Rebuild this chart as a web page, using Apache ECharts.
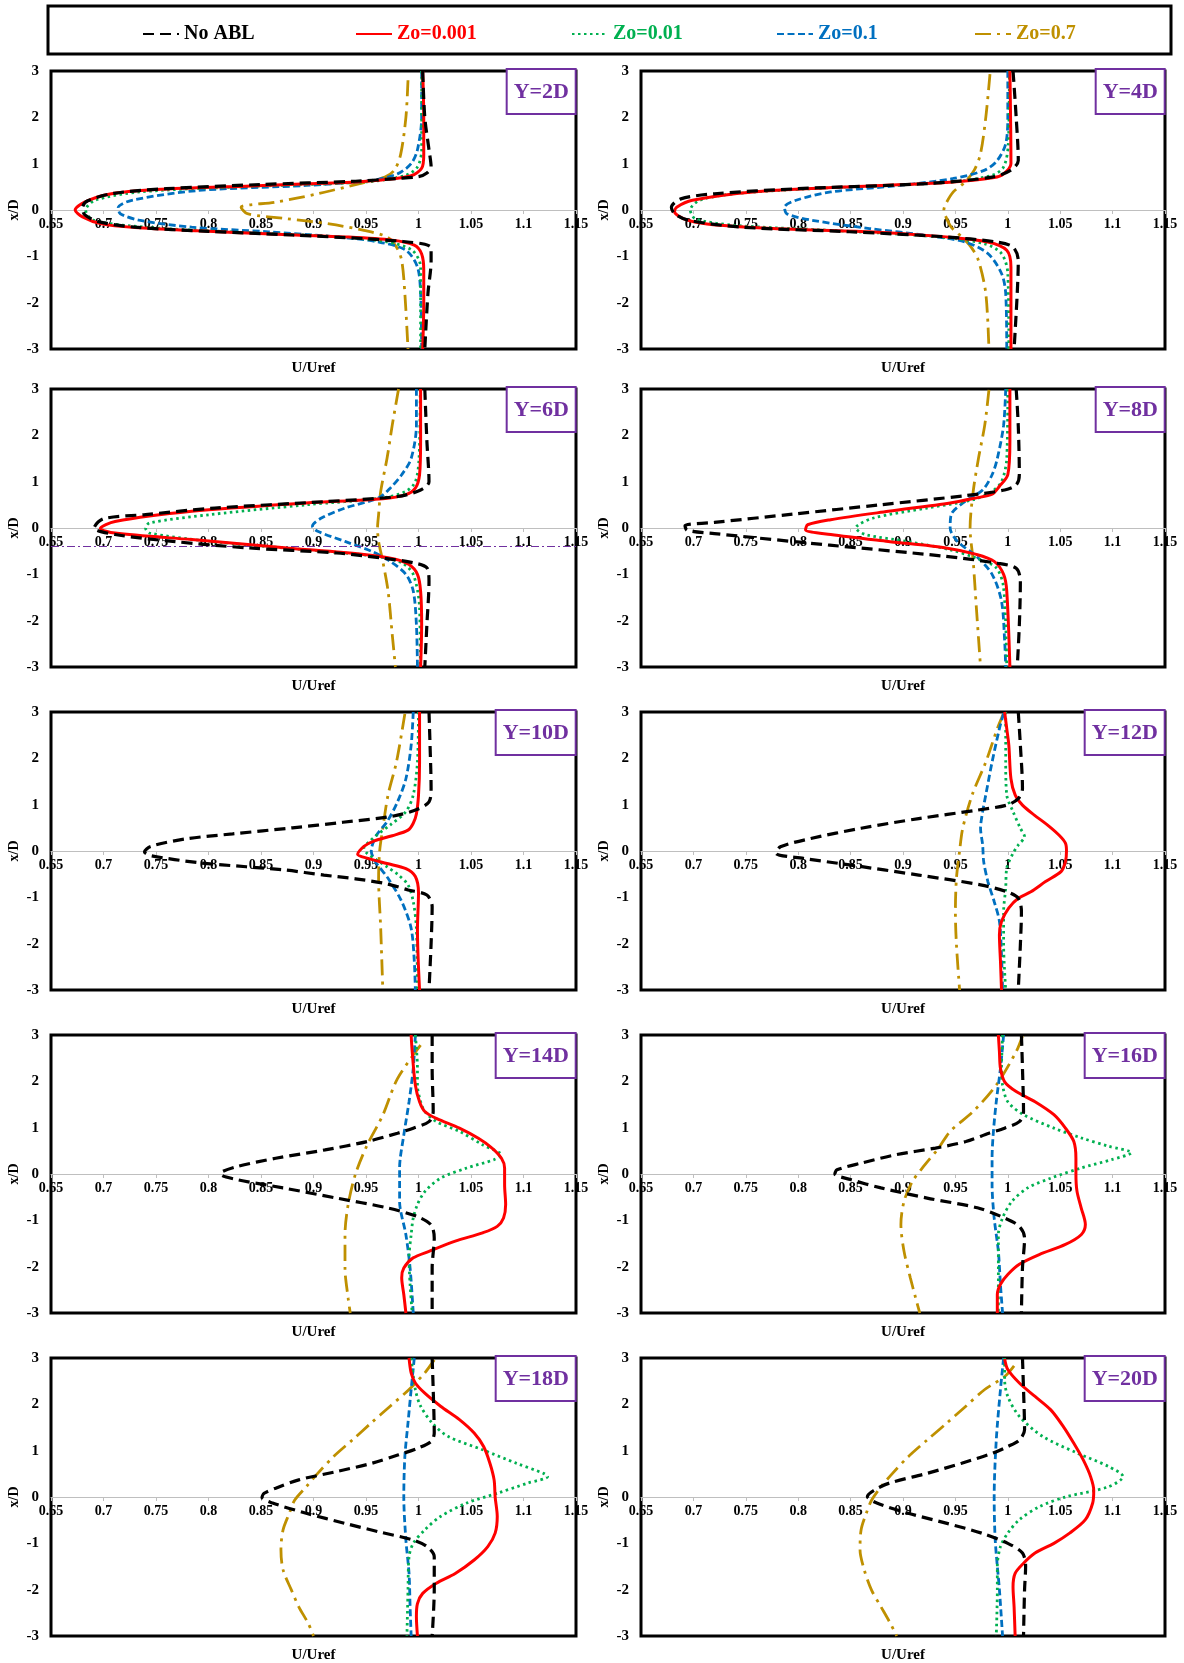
<!DOCTYPE html>
<html>
<head>
<meta charset="utf-8">
<script src="https://cdn.jsdelivr.net/npm/echarts@6/dist/echarts.min.js"></script>
<style>
  html, body { margin: 0; padding: 0; background: #ffffff; }
  #chart { width: 1184px; height: 1663px; }
</style>
</head>
<body>
<div id="chart"></div>
<script>
// Velocity-deficit profiles: each point is [U/Uref, x/D]
const seriesNames = ['No ABL', 'Zo=0.001', 'Zo=0.01', 'Zo=0.1', 'Zo=0.7'];
const stations = ['Y=2D', 'Y=4D', 'Y=6D', 'Y=8D', 'Y=10D', 'Y=12D', 'Y=14D', 'Y=16D', 'Y=18D', 'Y=20D'];
const xTicks = [0.65, 0.7, 0.75, 0.8, 0.85, 0.9, 0.95, 1, 1.05, 1.1, 1.15];
const yTicks = [-3, -2, -1, 0, 1, 2, 3];

// ---- Y = 2D ----
const noAbl_2D = [[1.004,3],[1.006,2],[1.01,1.3],[1.012,0.93],[1.008,0.8],[1.0,0.72],[0.98,0.68],[0.94,0.62],[0.85,0.55],[0.76,0.46],[0.71,0.36],[0.685,0.2],[0.68,0.05],[0.682,-0.1],[0.695,-0.25],[0.73,-0.37],[0.80,-0.46],[0.88,-0.54],[0.95,-0.62],[0.985,-0.68],[1.006,-0.74],[1.012,-0.82],[1.012,-1.1],[1.009,-1.8],[1.006,-3]];
const zo0001_2D = [[1.004,3],[1.005,2],[1.005,1.2],[1.003,0.9],[0.993,0.74],[0.965,0.65],[0.925,0.59],[0.84,0.52],[0.75,0.44],[0.705,0.34],[0.682,0.17],[0.673,0],[0.68,-0.15],[0.698,-0.3],[0.73,-0.38],[0.79,-0.45],[0.86,-0.52],[0.93,-0.58],[0.975,-0.65],[0.996,-0.76],[1.003,-0.95],[1.005,-1.3],[1.005,-2],[1.004,-3]];
const zo001_2D = [[1.003,3],[1.003,1.3],[0.999,0.93],[0.988,0.75],[0.952,0.61],[0.83,0.5],[0.735,0.39],[0.692,0.21],[0.683,0],[0.69,-0.22],[0.74,-0.37],[0.82,-0.47],[0.925,-0.58],[0.97,-0.69],[0.994,-0.87],[1.002,-1.23],[1.002,-3]];
const zo01_2D = [[1.003,3],[1.003,2],[0.999,1.3],[0.993,1.0],[0.98,0.78],[0.955,0.64],[0.893,0.53],[0.79,0.42],[0.727,0.21],[0.714,0.05],[0.716,-0.08],[0.734,-0.22],[0.784,-0.37],[0.857,-0.47],[0.922,-0.58],[0.962,-0.69],[0.988,-0.87],[0.999,-1.23],[1.002,-1.8],[1.003,-3]];
const zo07_2D = [[0.99,2.8],[0.988,2.0],[0.983,1.2],[0.977,0.86],[0.968,0.71],[0.944,0.57],[0.904,0.35],[0.864,0.17],[0.831,0.06],[0.837,-0.08],[0.875,-0.19],[0.915,-0.3],[0.948,-0.44],[0.97,-0.58],[0.979,-0.8],[0.984,-1.09],[0.987,-1.8],[0.99,-3]];

// ---- Y = 4D ----
const noAbl_4D = [[1.005,3],[1.008,2],[1.01,1.07],[1.003,0.86],[0.985,0.71],[0.923,0.57],[0.80,0.46],[0.72,0.35],[0.688,0.24],[0.679,0.06],[0.682,-0.08],[0.695,-0.22],[0.746,-0.37],[0.849,-0.47],[0.94,-0.58],[0.989,-0.69],[1.005,-0.8],[1.01,-1.09],[1.009,-1.8],[1.006,-3]];
const zo0001_4D = [[1.002,3],[1.003,1.0],[0.996,0.78],[0.987,0.7],[0.945,0.6],[0.85,0.5],[0.757,0.39],[0.699,0.21],[0.684,0.06],[0.682,-0.04],[0.691,-0.19],[0.713,-0.3],[0.776,-0.4],[0.868,-0.47],[0.941,-0.58],[0.981,-0.69],[0.999,-0.87],[1.003,-1.23],[1.003,-3]];
const zo001_4D = [[1.0015,3],[1.0005,1.43],[0.996,0.93],[0.985,0.75],[0.945,0.6],[0.812,0.46],[0.739,0.35],[0.706,0.21],[0.697,0],[0.702,-0.19],[0.739,-0.33],[0.831,-0.44],[0.934,-0.58],[0.978,-0.73],[0.994,-0.94],[1.0,-1.37],[1.001,-3]];
const zo01_4D = [[1.0,3],[1.0,2],[0.998,1.43],[0.99,1.07],[0.978,0.86],[0.948,0.68],[0.897,0.53],[0.831,0.39],[0.798,0.21],[0.787,0.06],[0.789,-0.08],[0.813,-0.22],[0.868,-0.4],[0.923,-0.55],[0.959,-0.69],[0.981,-0.94],[0.994,-1.37],[0.998,-1.8],[0.999,-3]];
const zo07_4D = [[0.983,2.93],[0.979,2],[0.974,1.22],[0.968,0.86],[0.959,0.6],[0.948,0.39],[0.941,0.14],[0.939,0],[0.941,-0.15],[0.946,-0.37],[0.956,-0.58],[0.965,-0.8],[0.972,-1.09],[0.979,-1.8],[0.982,-3]];

// ---- Y = 6D ----
const noAbl_6D = [[1.006,3],[1.008,1.87],[1.01,1.0],[1.002,0.82],[0.98,0.68],[0.911,0.57],[0.806,0.43],[0.74,0.29],[0.70,0.2],[0.691,0],[0.711,-0.14],[0.766,-0.29],[0.838,-0.43],[0.922,-0.54],[0.966,-0.65],[0.995,-0.75],[1.008,-0.86],[1.01,-1.15],[1.008,-2.08],[1.006,-3]];
const zo0001_6D = [[1.002,3],[1.002,1.87],[1.001,1.15],[0.997,0.86],[0.988,0.72],[0.966,0.63],[0.893,0.54],[0.784,0.36],[0.711,0.14],[0.697,-0.01],[0.711,-0.11],[0.784,-0.25],[0.875,-0.43],[0.948,-0.57],[0.977,-0.67],[0.991,-0.79],[0.999,-1.0],[1.002,-1.36],[1.003,-2.08],[1.002,-3]];
const zo001_6D = [[1.0017,3],[1.0005,1.5],[0.997,1.0],[0.988,0.79],[0.966,0.65],[0.893,0.5],[0.802,0.29],[0.744,0.11],[0.74,0],[0.744,-0.11],[0.802,-0.29],[0.893,-0.47],[0.959,-0.61],[0.984,-0.75],[0.995,-1.0],[1.001,-1.72],[1.0017,-3]];
const zo01_6D = [[0.998,3],[0.998,2.22],[0.993,1.5],[0.984,1.15],[0.973,0.86],[0.962,0.65],[0.93,0.43],[0.908,0.22],[0.899,0.04],[0.904,-0.07],[0.93,-0.29],[0.955,-0.5],[0.973,-0.72],[0.988,-1.0],[0.995,-1.36],[0.998,-2.08],[0.999,-3]];
const zo07_6D = [[0.981,3],[0.975,2.22],[0.97,1.5],[0.964,0.79],[0.962,0.29],[0.961,0],[0.962,-0.29],[0.966,-0.72],[0.971,-1.36],[0.975,-2.3],[0.978,-3]];

// ---- Y = 8D ----
const noAbl_8D = [[1.008,3],[1.01,2.2],[1.011,1.15],[1.008,0.93],[0.997,0.82],[0.96,0.7],[0.878,0.5],[0.795,0.3],[0.72,0.12],[0.692,0.05],[0.694,-0.05],[0.72,-0.12],[0.83,-0.37],[0.94,-0.61],[0.99,-0.76],[1.008,-0.87],[1.012,-1.15],[1.011,-2.1],[1.009,-3]];
const zo0001_8D = [[1.002,3],[1.002,1.87],[1.0,1.15],[0.992,0.9],[0.985,0.73],[0.97,0.65],[0.945,0.54],[0.886,0.36],[0.831,0.18],[0.809,0.07],[0.807,-0.04],[0.831,-0.14],[0.886,-0.29],[0.941,-0.43],[0.97,-0.57],[0.987,-0.72],[0.996,-1.0],[0.999,-1.36],[1.002,-3]];
const zo001_8D = [[1.0,3],[0.999,1.5],[0.994,1.0],[0.985,0.79],[0.967,0.61],[0.923,0.43],[0.871,0.21],[0.855,0],[0.864,-0.14],[0.904,-0.29],[0.945,-0.47],[0.97,-0.65],[0.989,-0.86],[0.996,-1.29],[0.999,-3]];
const zo01_8D = [[0.998,3],[0.996,2.22],[0.99,1.5],[0.985,1.15],[0.976,0.82],[0.959,0.57],[0.946,0.29],[0.945,0],[0.952,-0.29],[0.97,-0.61],[0.985,-1.0],[0.994,-1.58],[0.997,-2.44],[0.998,-3]];
const zo07_8D = [[0.982,2.98],[0.978,2.22],[0.972,1.5],[0.967,0.79],[0.964,0],[0.967,-0.72],[0.97,-1.72],[0.974,-3]];

// ---- Y = 10D ----
const noAbl_10D = [[1.01,3],[1.011,2.28],[1.012,1.35],[1.01,1.06],[0.999,0.9],[0.975,0.75],[0.928,0.62],[0.88,0.5],[0.823,0.37],[0.778,0.26],[0.745,0.1],[0.739,-0.02],[0.745,-0.1],[0.79,-0.25],[0.836,-0.34],[0.873,-0.41],[0.91,-0.52],[0.94,-0.6],[0.97,-0.71],[0.99,-0.84],[1.008,-0.95],[1.013,-1.2],[1.012,-2.0],[1.01,-3]];
const zo0001_10D = [[1.001,3],[1.001,1.9],[1.0,1.2],[0.998,0.8],[0.995,0.6],[0.99,0.45],[0.975,0.33],[0.958,0.22],[0.948,0.1],[0.942,-0.07],[0.952,-0.16],[0.97,-0.27],[0.988,-0.38],[0.997,-0.55],[1.0,-0.9],[0.999,-1.7],[1.001,-3]];
const zo001_10D = [[1.0,3],[0.999,1.92],[0.995,1.21],[0.988,0.85],[0.973,0.56],[0.96,0.34],[0.953,0.2],[0.948,0.06],[0.951,-0.05],[0.96,-0.19],[0.97,-0.34],[0.981,-0.52],[0.99,-0.73],[0.995,-1.09],[0.998,-1.67],[0.999,-3]];
const zo01_10D = [[0.995,3],[0.993,2.28],[0.988,1.56],[0.98,1.06],[0.97,0.63],[0.96,0.34],[0.955,0],[0.959,-0.23],[0.971,-0.59],[0.984,-1.09],[0.993,-1.67],[0.996,-2.38],[0.997,-3]];
const zo07_10D = [[0.987,2.96],[0.979,1.92],[0.971,1.21],[0.966,0.49],[0.963,0],[0.962,-0.59],[0.964,-1.67],[0.966,-3]];

// ---- Y = 12D ----
const noAbl_12D = [[1.01,3],[1.012,2.28],[1.014,1.35],[1.01,1.13],[0.999,0.99],[0.97,0.88],[0.915,0.7],[0.86,0.49],[0.812,0.27],[0.783,0.09],[0.779,-0.05],[0.805,-0.16],[0.849,-0.3],[0.915,-0.52],[0.974,-0.73],[0.999,-0.88],[1.01,-1.02],[1.013,-1.31],[1.012,-2.02],[1.01,-3]];
const zo0001_12D = [[0.997,3],[0.999,2.64],[1.001,2.28],[1.003,1.56],[1.007,1.21],[1.014,0.99],[1.025,0.78],[1.038,0.56],[1.049,0.34],[1.055,0.17],[1.056,0],[1.055,-0.23],[1.051,-0.44],[1.036,-0.66],[1.022,-0.88],[1.01,-1.02],[1.001,-1.23],[0.994,-1.52],[0.992,-1.81],[0.993,-2.38],[0.994,-3]];
const zo001_12D = [[0.998,3],[0.998,1.92],[0.999,1.21],[1.005,0.85],[1.012,0.49],[1.016,0.31],[1.01,0.13],[1.005,-0.05],[0.999,-0.37],[0.998,-0.8],[0.996,-1.31],[0.996,-2.02],[0.998,-3]];
const zo01_12D = [[0.996,2.97],[0.992,2.64],[0.985,1.92],[0.979,1.21],[0.976,0.85],[0.974,0.49],[0.976,0.13],[0.977,-0.23],[0.981,-0.66],[0.987,-1.09],[0.992,-1.52],[0.994,-2.24],[0.995,-3]];
const zo07_12D = [[0.996,2.97],[0.99,2.64],[0.979,1.92],[0.966,1.21],[0.957,0.49],[0.954,0],[0.951,-0.59],[0.95,-1.31],[0.951,-2.02],[0.954,-3]];

// ---- Y = 14D ----
const noAbl_14D = [[1.013,3],[1.013,2.28],[1.014,1.35],[1.01,1.13],[0.995,0.99],[0.98,0.88],[0.951,0.7],[0.911,0.52],[0.864,0.34],[0.827,0.16],[0.813,0.05],[0.812,-0.01],[0.827,-0.12],[0.871,-0.3],[0.922,-0.52],[0.97,-0.73],[0.999,-0.92],[1.012,-1.1],[1.015,-1.38],[1.013,-2.03],[1.013,-3]];
const zo0001_14D = [[0.993,3],[0.994,2.64],[0.997,1.92],[1.001,1.56],[1.006,1.35],[1.017,1.2],[1.039,0.99],[1.057,0.77],[1.07,0.56],[1.079,0.34],[1.082,0.13],[1.082,-0.23],[1.083,-0.66],[1.081,-0.95],[1.075,-1.13],[1.061,-1.27],[1.035,-1.45],[1.01,-1.67],[0.995,-1.81],[0.986,-2.03],[0.984,-2.24],[0.986,-2.6],[0.988,-3]];
const zo001_14D = [[0.997,3],[0.999,2.28],[0.999,1.92],[1.002,1.56],[1.006,1.35],[1.017,1.13],[1.039,0.92],[1.061,0.63],[1.079,0.41],[1.072,0.31],[1.046,0.13],[1.021,-0.09],[1.006,-0.38],[0.999,-0.66],[0.995,-0.95],[0.993,-1.31],[0.991,-1.81],[0.992,-2.39],[0.994,-3]];
const zo01_14D = [[0.997,3],[0.995,2.28],[0.991,1.56],[0.986,0.84],[0.982,0.13],[0.982,-0.59],[0.988,-1.31],[0.992,-2.03],[0.995,-3]];
const zo07_14D = [[1.002,2.78],[0.98,2.06],[0.966,1.27],[0.951,0.62],[0.94,0],[0.933,-0.66],[0.93,-1.31],[0.93,-2.03],[0.933,-2.68],[0.935,-3]];

// ---- Y = 16D ----
const noAbl_16D = [[1.013,3],[1.014,2.28],[1.015,1.35],[1.011,1.13],[0.997,0.99],[0.982,0.88],[0.96,0.7],[0.931,0.56],[0.894,0.42],[0.861,0.24],[0.837,0.09],[0.835,0],[0.85,-0.12],[0.879,-0.3],[0.923,-0.52],[0.971,-0.73],[0.997,-0.95],[1.011,-1.13],[1.016,-1.38],[1.014,-2.03],[1.013,-3]];
const zo0001_16D = [[0.991,3],[0.992,2.64],[0.993,2.28],[0.997,1.99],[1.008,1.78],[1.026,1.56],[1.044,1.28],[1.055,0.99],[1.063,0.7],[1.065,0.34],[1.065,0],[1.066,-0.37],[1.07,-0.73],[1.074,-1.09],[1.07,-1.31],[1.055,-1.52],[1.03,-1.74],[1.011,-1.95],[1.0,-2.17],[0.993,-2.38],[0.99,-2.6],[0.99,-3]];
const zo001_16D = [[0.995,3],[0.994,2.28],[0.995,1.92],[1.0,1.56],[1.015,1.28],[1.044,0.99],[1.07,0.78],[1.096,0.6],[1.118,0.46],[1.099,0.31],[1.07,0.13],[1.041,-0.09],[1.019,-0.3],[1.004,-0.59],[0.995,-0.95],[0.991,-1.31],[0.991,-2.03],[0.991,-3]];
const zo01_16D = [[0.996,3],[0.993,2.28],[0.989,1.56],[0.986,0.84],[0.985,0.34],[0.985,-0.23],[0.987,-0.95],[0.991,-1.67],[0.993,-2.39],[0.995,-3]];
const zo07_16D = [[1.014,2.98],[1.008,2.64],[0.989,1.92],[0.967,1.35],[0.945,0.92],[0.934,0.56],[0.921,0.2],[0.909,-0.16],[0.901,-0.59],[0.898,-1.09],[0.901,-1.67],[0.907,-2.24],[0.912,-2.67],[0.916,-3]];

// ---- Y = 18D ----
const noAbl_18D = [[1.013,3],[1.014,2.32],[1.015,1.38],[1.012,1.2],[0.999,1.05],[0.981,0.91],[0.956,0.73],[0.922,0.55],[0.886,0.37],[0.864,0.19],[0.853,0.08],[0.851,-0.01],[0.861,-0.13],[0.893,-0.35],[0.93,-0.57],[0.962,-0.75],[0.995,-0.93],[1.008,-1.07],[1.015,-1.29],[1.015,-2.01],[1.013,-3]];
const zo0001_18D = [[0.991,3],[0.993,2.68],[0.997,2.46],[1.006,2.24],[1.021,1.96],[1.039,1.67],[1.053,1.38],[1.062,1.09],[1.068,0.73],[1.072,0.37],[1.073,0],[1.075,-0.42],[1.073,-0.78],[1.066,-1.07],[1.053,-1.36],[1.035,-1.65],[1.017,-1.86],[1.004,-2.08],[0.999,-2.3],[0.998,-2.58],[0.999,-3]];
const zo001_18D = [[0.993,3],[0.997,2.32],[1.002,1.96],[1.013,1.6],[1.028,1.31],[1.061,1.02],[1.093,0.73],[1.119,0.51],[1.123,0.44],[1.104,0.3],[1.075,0.08],[1.046,-0.13],[1.021,-0.42],[1.006,-0.71],[0.995,-1.0],[0.991,-1.29],[0.99,-2.01],[0.989,-3]];
const zo01_18D = [[0.996,3],[0.993,2.32],[0.99,1.6],[0.987,0.87],[0.986,0],[0.988,-0.93],[0.991,-1.65],[0.992,-2.37],[0.993,-3]];
const zo07_18D = [[1.015,2.96],[1.006,2.68],[0.991,2.32],[0.973,1.96],[0.955,1.6],[0.937,1.23],[0.919,0.87],[0.904,0.51],[0.893,0.22],[0.882,-0.07],[0.877,-0.35],[0.871,-0.71],[0.869,-1.14],[0.871,-1.57],[0.879,-2.01],[0.886,-2.37],[0.895,-2.73],[0.9,-3]];

// ---- Y = 20D ----
const noAbl_20D = [[1.014,3],[1.015,2.32],[1.016,1.45],[1.011,1.23],[1.0,1.09],[0.986,0.95],[0.956,0.73],[0.923,0.51],[0.887,0.3],[0.872,0.14],[0.866,0.01],[0.875,-0.13],[0.905,-0.35],[0.942,-0.57],[0.975,-0.78],[1.0,-1.0],[1.014,-1.21],[1.017,-1.5],[1.016,-2.0],[1.015,-3]];
const zo0001_20D = [[0.997,2.98],[1.0,2.75],[1.011,2.46],[1.026,2.17],[1.041,1.88],[1.053,1.52],[1.063,1.16],[1.072,0.8],[1.079,0.44],[1.082,0.14],[1.081,-0.13],[1.074,-0.49],[1.059,-0.78],[1.044,-1.0],[1.026,-1.21],[1.015,-1.43],[1.007,-1.65],[1.005,-1.94],[1.006,-2.37],[1.007,-3]];
const zo001_20D = [[0.997,3],[0.997,2.53],[1.0,2.17],[1.011,1.74],[1.033,1.31],[1.066,0.95],[1.096,0.66],[1.11,0.44],[1.096,0.22],[1.055,0],[1.03,-0.21],[1.011,-0.49],[1.0,-0.78],[0.993,-1.07],[0.99,-1.5],[0.99,-2.0],[0.989,-3]];
const zo01_20D = [[0.996,3],[0.993,2.32],[0.989,1.23],[0.987,0],[0.988,-0.93],[0.992,-2.0],[0.995,-3]];
const zo07_20D = [[1.006,2.83],[0.997,2.6],[0.978,2.32],[0.96,1.96],[0.942,1.6],[0.923,1.23],[0.905,0.87],[0.89,0.51],[0.879,0.22],[0.87,-0.07],[0.865,-0.35],[0.86,-0.71],[0.859,-1.14],[0.863,-1.57],[0.87,-2.01],[0.879,-2.37],[0.888,-2.73],[0.894,-3]];

const profiles = [
  [noAbl_2D, zo0001_2D, zo001_2D, zo01_2D, zo07_2D],
  [noAbl_4D, zo0001_4D, zo001_4D, zo01_4D, zo07_4D],
  [noAbl_6D, zo0001_6D, zo001_6D, zo01_6D, zo07_6D],
  [noAbl_8D, zo0001_8D, zo001_8D, zo01_8D, zo07_8D],
  [noAbl_10D, zo0001_10D, zo001_10D, zo01_10D, zo07_10D],
  [noAbl_12D, zo0001_12D, zo001_12D, zo01_12D, zo07_12D],
  [noAbl_14D, zo0001_14D, zo001_14D, zo01_14D, zo07_14D],
  [noAbl_16D, zo0001_16D, zo001_16D, zo01_16D, zo07_16D],
  [noAbl_18D, zo0001_18D, zo001_18D, zo01_18D, zo07_18D],
  [noAbl_20D, zo0001_20D, zo001_20D, zo01_20D, zo07_20D]
];

// ---- styling ----
const FONT = '"Liberation Serif", "Times New Roman", serif';
const lineStyles = [
  { color: '#000000', width: 3.2, type: [11, 6] },
  { color: '#FF0000', width: 3,   type: 'solid' },
  { color: '#00B050', width: 2.8, type: [2.5, 3.5] },
  { color: '#0070C0', width: 2.8, type: [7, 3.5] },
  { color: '#BF9000', width: 2.8, type: [16, 6, 3, 6] }
];
const colLeft = [51, 641];
const colWidth = [525, 524];
const rowTop = [71, 389, 712, 1035, 1358];
const plotH = 278;
const W = 1184;

const grids = [], xAxes = [], yAxes = [], series = [], titles = [], graphics = [];

stations.forEach((name, i) => {
  const c = i % 2, r = Math.floor(i / 2);
  const left = colLeft[c], width = colWidth[c], top = rowTop[r];
  grids.push({
    left: left, top: top, width: width, height: plotH,
    show: true, borderColor: '#000', borderWidth: 3, backgroundColor: 'transparent'
  });
  // the U/Uref axis crosses the x/D axis at x/D = 0 (middle of the symmetric range)
  xAxes.push({
    gridIndex: i, type: 'value', position: 'bottom', offset: -plotH / 2,
    min: xTicks[0], max: xTicks[xTicks.length - 1], interval: 0.05,
    splitLine: { show: false },
    axisLine: { show: true, onZero: false, lineStyle: { color: '#BFBFBF', width: 1 } },
    axisTick: { show: true, length: 4, lineStyle: { color: '#BFBFBF' } },
    axisLabel: {
      margin: 7, color: '#000', fontFamily: FONT, fontWeight: 'bold', fontSize: 14,
      showMinLabel: true, showMaxLabel: true,
      formatter: v => String(+v.toFixed(2))
    }
  });
  yAxes.push({
    gridIndex: i, type: 'value',
    min: yTicks[0], max: yTicks[yTicks.length - 1], interval: 1,
    splitLine: { show: false },
    axisLine: { show: false }, axisTick: { show: false },
    axisLabel: { margin: 12, color: '#000', fontFamily: FONT, fontWeight: 'bold', fontSize: 15 },
    name: 'x/D', nameLocation: 'middle', nameGap: 30, nameRotate: 90,
    nameTextStyle: { color: '#000', fontFamily: FONT, fontWeight: 'bold', fontSize: 14 }
  });
  profiles[i].forEach((pts, k) => {
    const s = {
      name: seriesNames[k], type: 'line', xAxisIndex: i, yAxisIndex: i,
      data: pts, symbol: 'none', smooth: 0.3, lineStyle: lineStyles[k],
      itemStyle: { color: lineStyles[k].color }, animation: false, z: 7 - k
    };
    if (name === 'Y=6D' && k === 0) {
      s.markLine = {
        silent: true, symbol: 'none', label: { show: false },
        lineStyle: { color: '#7030A0', width: 1, type: [8, 3, 2, 3] },
        data: [{ yAxis: -0.4 }]
      };
    }
    series.push(s);
  });
  titles.push({
    text: name, right: W - (left + width), top: top - 2,
    padding: [12, 7, 11, 7], borderColor: '#7030A0', borderWidth: 2, backgroundColor: '#fff',
    textStyle: { color: '#7030A0', fontFamily: FONT, fontWeight: 'bold', fontSize: 22 }
  });
  graphics.push({
    type: 'text', x: left + width / 2, y: top + plotH + 19,
    style: {
      text: 'U/Uref', textAlign: 'center', textVerticalAlign: 'middle',
      font: 'bold 15px ' + FONT, fill: '#000'
    }
  });
});

// legend frame
graphics.push({
  type: 'rect', shape: { x: 48, y: 6, width: 1123, height: 48 },
  style: { fill: 'none', stroke: '#000', lineWidth: 3 }, z: 10
});

const legendLeft = [142, 355, 571, 776, 974];
const legends = seriesNames.map((n, k) => ({
  left: legendLeft[k], top: 24, padding: 0,
  itemWidth: 36, itemHeight: 14, itemGap: 0,
  itemStyle: { opacity: 0 },
  data: [{ name: n, textStyle: { color: lineStyles[k].color } }],
  textStyle: { fontFamily: FONT, fontWeight: 'bold', fontSize: 20 }
}));

const chart = echarts.init(document.getElementById('chart'), null, { renderer: 'canvas' });
chart.setOption({
  animation: false,
  backgroundColor: '#ffffff',
  title: titles,
  legend: legends,
  grid: grids,
  xAxis: xAxes,
  yAxis: yAxes,
  series: series,
  graphic: graphics
});
</script>
</body>
</html>
